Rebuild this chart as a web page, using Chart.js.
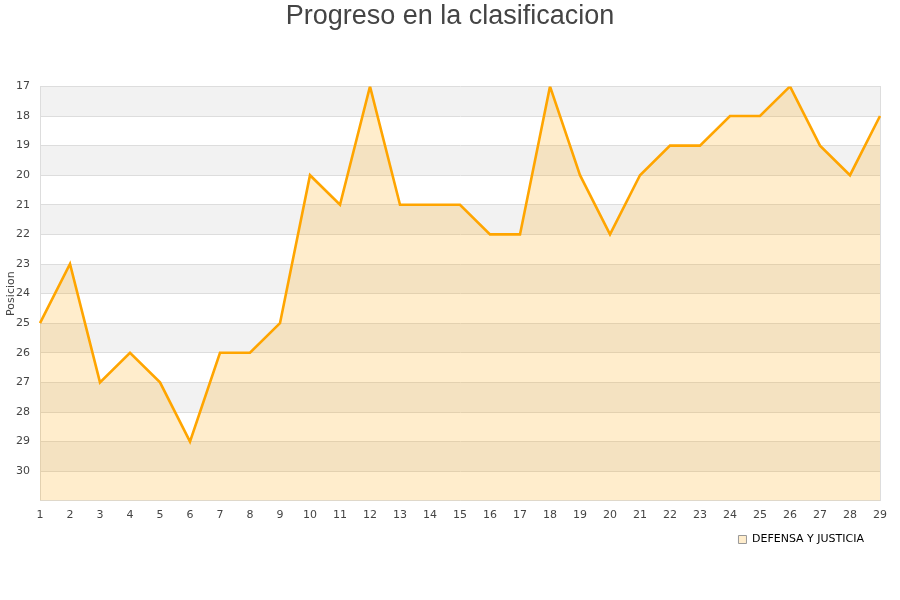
<!DOCTYPE html>
<html><head><meta charset="utf-8">
<script src="https://cdn.jsdelivr.net/npm/chart.js@4/dist/chart.umd.min.js"></script>
<style>html,body{margin:0;padding:0;background:#fff}#wrap{width:900px;height:600px}</style>
</head><body><div id="wrap"><canvas id="c" width="900" height="600"></canvas></div>
<script>
const titleText = "Progreso en la clasificacion";
const seriesName = "DEFENSA Y JUSTICIA";
const jornadas = [1,2,3,4,5,6,7,8,9,10,11,12,13,14,15,16,17,18,19,20,21,22,23,24,25,26,27,28,29];
const posiciones = [25,23,27,26,27,29,26,26,25,20,21,17,21,21,21,22,22,17,20,22,20,19,19,18,18,17,19,20,18];
const yMin = 17, yMax = 31;
const yTitle = "Posicion";

const bands = {
  id: 'bands',
  beforeDraw(chart) {
    const {ctx, chartArea: a, scales: {y}} = chart;
    ctx.save();
    for (let v = yMin; v < yMax; v++) {
      if ((v - yMin) % 2 === 0) {
        const p1 = y.getPixelForValue(v), p2 = y.getPixelForValue(v + 1);
        ctx.fillStyle = '#f2f2f2';
        ctx.fillRect(a.left, Math.min(p1,p2), a.right - a.left, Math.abs(p2 - p1));
      }
    }
    ctx.restore();
  }
};

new Chart(document.getElementById('c'), {
  type: 'line',
  data: {
    labels: jornadas.map(String),
    datasets: [{
      label: seriesName,
      data: posiciones,
      borderColor: '#ffa500',
      backgroundColor: 'rgba(255,165,0,0.2)',
      borderWidth: 2.6,
      pointRadius: 0,
      tension: 0,
      fill: {value: yMax}
    }]
  },
  plugins: [bands],
  options: {
    responsive: false,
    animation: false,
    layout: {padding: {left: 0, right: 0, top: 0, bottom: 45}},
    plugins: {
      title: {display: true, text: titleText, color: '#444',
        font: {family: 'Liberation Sans', size: 27, weight: 'normal'},
        padding: {top: 0, bottom: 54}},
      legend: {position: 'bottom', align: 'end', fullSize: false,
        labels: {boxWidth: 8, boxHeight: 8, color: '#000',
          font: {family: 'DejaVu Sans', size: 11}, padding: 16,
          generateLabels: (chart) => [{text: seriesName, fillStyle: 'rgba(255,165,0,0.2)', strokeStyle: '#999', lineWidth: 1, hidden: false, datasetIndex: 0, fontColor: '#000'}]}},
      tooltip: {enabled: false}
    },
    scales: {
      x: {
        offset: false,
        grid: {display: false, drawTicks: false},
        border: {color: '#ddd'},
        ticks: {color: '#444', font: {family: 'DejaVu Sans', size: 11}, padding: 8, maxRotation: 0, autoSkip: false},
        afterFit: (s) => { s.height -= 12; }
      },
      y: {
        reverse: true, min: yMin, max: yMax,
        grid: {color: '#dddddd', drawTicks: false},
        border: {color: '#ddd'},
        title: {display: true, text: yTitle, color: '#444', font: {family: 'DejaVu Sans', size: 11}, padding: {top: 5, bottom: 1}},
        ticks: {stepSize: 1, color: '#444', font: {family: 'DejaVu Sans', size: 11}, padding: 10,
          callback: (v) => v === yMax ? '' : String(v)},
        afterFit: (s) => { s.width = 40; }
      },
      y2: {
        position: 'right', display: true,
        grid: {display: false, drawTicks: false},
        border: {display: true, color: '#ddd'},
        ticks: {display: false},
        afterFit: (s) => { s.width = 20; }
      }
    }
  }
});
</script></body></html>
